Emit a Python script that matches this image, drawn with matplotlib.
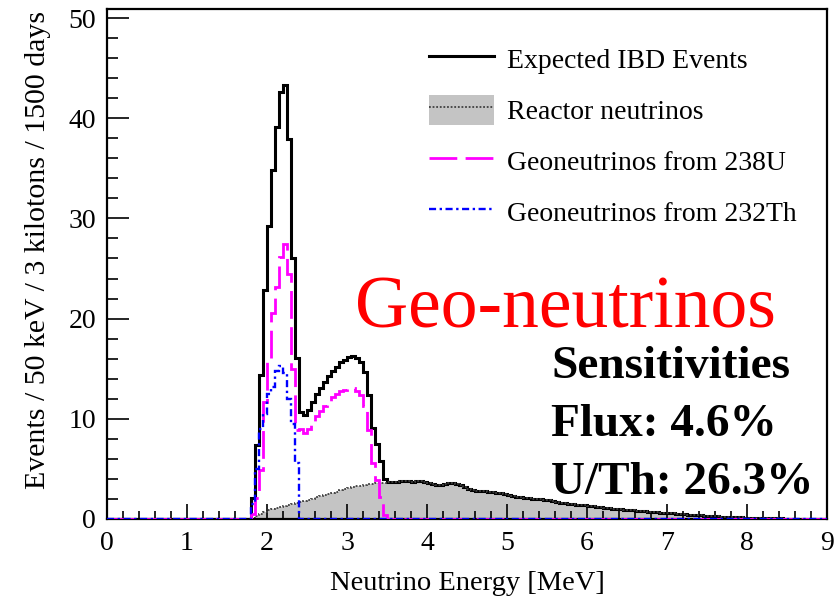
import numpy as np
import matplotlib
matplotlib.use("Agg")
import matplotlib.pyplot as plt
from matplotlib.lines import Line2D
from matplotlib.patches import Patch
from matplotlib.legend_handler import HandlerTuple
from matplotlib.ticker import MultipleLocator

plt.rcParams['font.family'] = ['Liberation Serif', 'DejaVu Serif']

# ---- data: events per 50 keV bin, starting at 1.80 MeV ----
bin_width = 0.05
e_min, e_max = 0.0, 9.0
data_start = 1.80

th232 = [1.5, 5.0, 9.0, 10.5, 12.5, 13.2, 14.8, 15.3, 14.6, 12.0, 9.5, 5.6]

u238 = [0.5, 2.1, 4.9, 11.7, 15.8, 20.6, 23.2, 26.1, 27.4, 24.5, 15.0, 8.9,
        9.0, 8.6, 9.0, 9.7, 10.3, 10.8, 11.3, 11.8, 12.2, 12.5, 12.8, 12.9,
        13.1, 13.1, 12.8, 12.4, 11.3, 8.9, 5.6, 3.9, 2.2, 0.4]

reactor = [0.1, 0.3, 0.5, 0.7, 0.9, 1.0, 1.1, 1.2, 1.3, 1.4, 1.5, 1.6,
           1.7, 1.8, 1.9, 2.0, 2.2, 2.3, 2.4, 2.5, 2.6, 2.7, 2.9, 3.0,
           3.1, 3.2, 3.3, 3.3, 3.4, 3.5, 3.5, 3.6, 3.6, 3.6, 3.7, 3.7,
           3.7, 3.8, 3.8, 3.8, 3.7, 3.8, 3.8, 3.7, 3.6, 3.5, 3.4, 3.4,
           3.5, 3.6, 3.6, 3.5, 3.4, 3.2, 3.0, 2.9, 2.8, 2.8, 2.8, 2.7,
           2.7, 2.6, 2.6, 2.5, 2.4, 2.3, 2.2, 2.2, 2.1, 2.1, 2.0, 2.0,
           2.0, 1.9, 1.9, 1.8, 1.7, 1.6, 1.6, 1.5, 1.5, 1.4, 1.4, 1.4,
           1.3, 1.3, 1.2, 1.2, 1.1, 1.1, 1.0, 1.0, 0.95, 0.9, 0.9, 0.85,
           0.8, 0.8, 0.75, 0.7, 0.7, 0.65, 0.6, 0.6, 0.55, 0.55, 0.5, 0.5,
           0.45, 0.4, 0.4, 0.35, 0.35, 0.3, 0.3, 0.28, 0.25, 0.22, 0.2, 0.2,
           0.18, 0.15, 0.15, 0.12, 0.12, 0.1, 0.1, 0.08, 0.08, 0.06, 0.06, 0.05,
           0.05, 0.04, 0.04, 0.03, 0.03, 0.03, 0.02, 0.02, 0.02, 0.01, 0.01, 0.01]

legend_labels = ["Expected IBD Events", "Reactor neutrinos",
                 "Geoneutrinos from 238U", "Geoneutrinos from 232Th"]
xlabel = "Neutrino Energy [MeV]"
ylabel = "Events / 50 keV / 3 kilotons / 1500 days"
title_text = "Geo-neutrinos"
sens_lines = ["Sensitivities", "Flux: 4.6%", "U/Th: 26.3%"]

# ---- build full histograms ----
n_bins = int(round((e_max - e_min) / bin_width))
edges = np.linspace(e_min, e_max, n_bins + 1)
i0 = int(round((data_start - e_min) / bin_width))

def full(arr):
    h = np.zeros(n_bins)
    a = np.asarray(arr, dtype=float)
    h[i0:i0 + len(a)] = a[:n_bins - i0]
    return h

h_th = full(th232)
h_u = full(u238)
h_r = full(reactor)
h_tot = h_th + h_u + h_r

fig = plt.figure(figsize=(8.4, 5.97), dpi=100)
ax = fig.add_axes([107/840, 78/597, 720/840, 510/597])

gray = "#c4c4c4"
ax.stairs(h_r, edges, fill=True, color=gray, zorder=1, baseline=0)
ax.stairs(h_tot, edges, color="black", lw=2.2, zorder=2)
ax.stairs(h_r, edges, color="#404040", lw=1.3, ls=(0, (1, 1)), zorder=2.5)
ax.stairs(h_u, edges, color="#ff00ff", lw=2.0, ls=(0, (10, 3)), zorder=3)
ax.stairs(h_th, edges, color="#0000ff", lw=1.7, ls=(0, (3, 1.5, 1, 1.5)), zorder=4)

ax.set_xlim(e_min, e_max)
ax.set_ylim(0, 50.9)
ax.xaxis.set_major_locator(MultipleLocator(1))
ax.xaxis.set_minor_locator(MultipleLocator(0.2))
ax.yaxis.set_major_locator(MultipleLocator(10))
ax.yaxis.set_minor_locator(MultipleLocator(2))
ax.tick_params(axis='x', which='major', direction='in', length=11, width=1.2,
               labelsize=20, pad=9, top=False)
ax.tick_params(axis='x', which='minor', direction='in', length=5.5, width=1.2, top=False)
ax.tick_params(axis='y', which='major', direction='in', length=16, width=1.2,
               labelsize=20, pad=8, right=False)
ax.tick_params(axis='y', which='minor', direction='in', length=8, width=1.2, right=False)
for s in ax.spines.values():
    s.set_linewidth(1.6)

fig.text(605/840, 1 - 590/597, xlabel, ha='right', va='baseline', fontsize=20.5)
fig.text(38/840, 1 - 11/597, ylabel, ha='center', va='top', rotation=90, fontsize=21.5)

handles = [
    Line2D([], [], color="black", lw=2.2),
    (Patch(facecolor=gray, edgecolor='none'),
     Line2D([], [], color="#404040", lw=1.3, ls=(0, (1, 1)))),
    Line2D([], [], color="#ff00ff", lw=2.0, ls=(0, (10, 3))),
    Line2D([], [], color="#0000ff", lw=1.7, ls=(0, (3, 1.5, 1, 1.5))),
]
leg = ax.legend(handles, legend_labels, loc='upper left',
                bbox_to_anchor=(0.420, 1 - 16/510),
                frameon=False, fontsize=20, handlelength=2.35, handleheight=1.25,
                handletextpad=0.45, labelspacing=0.75, borderpad=0.2,
                handler_map={tuple: HandlerTuple(ndivide=1, pad=0)})

fig.text(355/840, 1 - 327/597, title_text, color="#ff0000", fontsize=53,
         ha='left', va='baseline')
for k, line in enumerate(sens_lines):
    fig.text(551/840, 1 - (378 + 58 * k)/597, line, fontsize=34,
             fontweight='bold', ha='left', va='baseline')

fig.savefig("out.png", dpi=100)
